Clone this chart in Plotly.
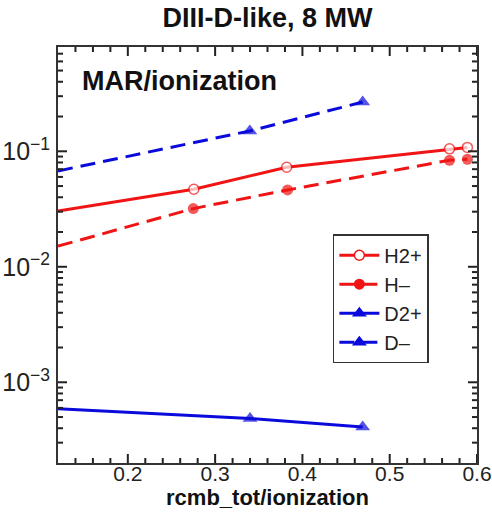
import plotly.graph_objects as go

# Data
h2p_x = [0.12, 0.2756, 0.382, 0.5685, 0.589]
h2p_y = [0.0304, 0.0469, 0.0727, 0.105, 0.108]

hm_x = [0.12, 0.275, 0.383, 0.5685, 0.589]
hm_y = [0.0151, 0.0319, 0.0463, 0.0836, 0.0853]

d2p_x = [0.12, 0.34, 0.469]
d2p_y = [0.00059, 0.000485, 0.00041]

dm_x = [0.12, 0.3397, 0.469]
dm_y = [0.0676, 0.150, 0.267]

names = ["H2+", "H\u2013", "D2+", "D\u2013"]

# axis ticks
x_range = [0.12, 0.6]
y_range_log = [-3.699, -0.097]
x_major = [0.2, 0.3, 0.4, 0.5, 0.6]
x_minor = [round(0.14 + 0.02 * i, 2) for i in range(23)]
x_minor = [v for v in x_minor if all(abs(v - m) > 1e-9 for m in x_major)]
y_major = [1e-3, 1e-2, 1e-1]
y_minor = [m * 10.0 ** e for e in range(-4, 0) for m in range(2, 10)]
y_minor = [v for v in y_minor if 2.05e-4 < v < 0.79]

RED = "rgb(240,20,20)"
BLUE = "rgb(10,10,220)"
AX = "#333"
FONT = "Liberation Sans, Arial, sans-serif"
DASH = "15px,8px"

styles = [
    dict(line=dict(color=RED, width=3),
         marker=dict(symbol="circle", size=10, color="white", line=dict(color=RED, width=1.5))),
    dict(line=dict(color=RED, width=3, dash=DASH),
         marker=dict(symbol="circle", size=11, color=RED, line=dict(width=0))),
    dict(line=dict(color=BLUE, width=3),
         marker=dict(symbol="triangle-up", size=13, color=BLUE, line=dict(width=0))),
    dict(line=dict(color=BLUE, width=3, dash=DASH),
         marker=dict(symbol="triangle-up", size=13, color=BLUE, line=dict(width=0))),
]
series = [(h2p_x, h2p_y), (hm_x, hm_y), (d2p_x, d2p_y), (dm_x, dm_y)]

fig = go.Figure()
for (xs, ys), st, nm in zip(series, styles, names):
    mk = dict(st["marker"])
    mk["size"] = [0] + [st["marker"]["size"]] * (len(xs) - 1)
    fig.add_trace(go.Scatter(x=xs, y=ys, mode="lines+markers", line=st["line"],
                             marker=mk, showlegend=False, name=nm))
# legend entries
for st, nm in zip(styles, names):
    fig.add_trace(go.Scatter(x=[None], y=[None], mode="lines+markers", name=nm,
                             line=st["line"], marker=st["marker"]))

PLOT_W, PLOT_H = 419, 416
MAJ, MIN = 9, 5

# inside tick marks on all four sides, placed through the axes' own scales
tick_line = dict(color="#222", width=2)
for vals, ln in ((x_major, MAJ), (x_minor, MIN)):
    for v in vals:
        fig.add_shape(type="line", xref="x", yref="y domain", x0=v, x1=v,
                      y0=0, y1=ln / PLOT_H, line=tick_line, layer="above")
        fig.add_shape(type="line", xref="x", yref="y domain", x0=v, x1=v,
                      y0=1, y1=1 - ln / PLOT_H, line=tick_line, layer="above")
for vals, ln in ((y_major, MAJ), (y_minor, MIN)):
    for v in vals:
        fig.add_shape(type="line", xref="x domain", yref="y", y0=v, y1=v,
                      x0=0, x1=ln / PLOT_W, line=tick_line, layer="above")
        fig.add_shape(type="line", xref="x domain", yref="y", y0=v, y1=v,
                      x0=1, x1=1 - ln / PLOT_W, line=tick_line, layer="above")

fig.update_layout(
    width=492, height=524,
    margin=dict(l=58, r=15, t=47, b=61),
    paper_bgcolor="white", plot_bgcolor="white",
    title=dict(text="DIII-D-like, 8 MW", x=(58 + 477) / 2 / 492, xanchor="center",
               y=1 - 18 / 524, yanchor="middle",
               font=dict(family=FONT, size=27, color="#111", weight="bold")),
    legend=dict(x=0.656, y=0.55, xanchor="left", yanchor="top",
                bgcolor="white", bordercolor=AX, borderwidth=1.5,
                font=dict(family=FONT, size=20, color="#222"),
                tracegroupgap=0, itemwidth=40),
    showlegend=True,
    annotations=[dict(text="MAR/ionization", xref="paper", yref="paper",
                      x=(80 - 58) / 419, y=(463 - 81) / 416, xanchor="left", yanchor="middle",
                      showarrow=False,
                      font=dict(family=FONT, size=27, color="#111", weight="bold"))],
)

fig.update_xaxes(
    range=x_range, tickmode="array", tickvals=x_major,
    ticktext=[f"{v:.1f}" for v in x_major],
    showline=True, linecolor=AX, linewidth=2, mirror=True, ticks="",
    showgrid=False, zeroline=False, automargin=False,
    tickfont=dict(family=FONT, size=21, color="#222"),
    ticklabelstandoff=-9,
    title=dict(text="rcmb_tot/ionization", standoff=4,
               font=dict(family=FONT, size=22, color="#111", weight="bold")),
)
fig.update_yaxes(
    type="log", range=y_range_log, tickmode="linear", tick0=0, dtick=1,
    exponentformat="power", showexponent="all",
    showline=True, linecolor=AX, linewidth=2, mirror=True, ticks="",
    showgrid=False, zeroline=False, automargin=False,
    tickfont=dict(family=FONT, size=20, color="#222"),
    ticklabelstandoff=2,
)

fig.write_html("out.html", config={"displayModeBar": False, "staticPlot": True})

# remove the default page margin so the figure sits at the window's top-left corner
with open("out.html", "r", encoding="utf-8") as f:
    html = f.read()
html = html.replace("<head>", "<head><style>html,body{margin:0;padding:0;overflow:hidden;}</style>", 1)
with open("out.html", "w", encoding="utf-8") as f:
    f.write(html)
